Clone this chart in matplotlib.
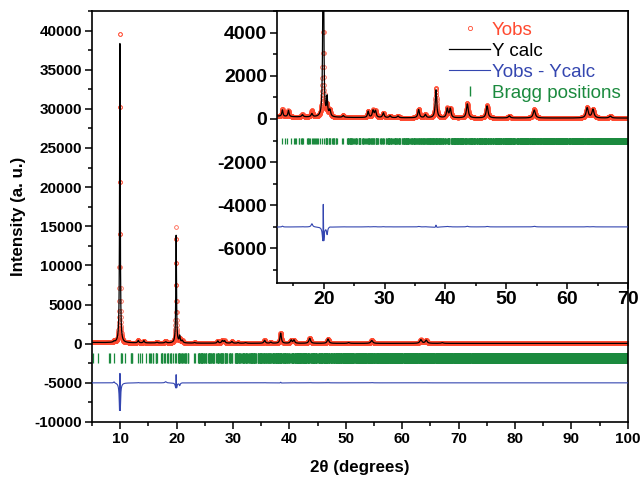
import numpy as np
import matplotlib.pyplot as plt
from matplotlib.ticker import MultipleLocator
from matplotlib.lines import Line2D

plt.rcParams['font.family'] = ['Liberation Sans', 'DejaVu Sans']
plt.rcParams['axes.unicode_minus'] = False

# Scan range and step (degrees 2theta)
scan_start, scan_stop, scan_step = 5.0, 100.0, 0.02

peak_pos = [8.90, 9.95, 13.20, 14.20, 16.50, 18.05, 19.92, 20.55, 21.00, 23.20,
            27.30, 28.10, 28.50, 29.80, 30.90, 32.20, 35.60, 36.70, 38.45, 40.30,
            40.80, 43.60, 46.85, 50.50, 54.60, 63.30, 64.25, 67.10]
calc_height = [120, 39200, 300, 290, 100, 150, 13750, 850, 300, 80,
               290, 320, 300, 220, 90, 80, 380, 150, 1300, 420,
               420, 650, 560, 100, 370, 470, 400, 90]
calc_fwhm = [0.25, 0.125, 0.22, 0.22, 0.30, 0.30, 0.14, 0.20, 0.30, 0.30,
             0.25, 0.30, 0.30, 0.30, 0.30, 0.30, 0.30, 0.30, 0.28, 0.30,
             0.30, 0.35, 0.35, 0.35, 0.40, 0.40, 0.40, 0.40]
obs_height = [300, 41000, 340, 290, 110, 300, 14800, 520, 320, 90,
              300, 330, 310, 230, 95, 85, 400, 160, 1380, 440,
              430, 680, 580, 100, 400, 480, 410, 95]
obs_fwhm = [0.25, 0.10, 0.22, 0.22, 0.30, 0.30, 0.12, 0.20, 0.30, 0.30,
            0.25, 0.30, 0.30, 0.30, 0.30, 0.30, 0.30, 0.30, 0.26, 0.30,
            0.30, 0.35, 0.35, 0.35, 0.40, 0.40, 0.40, 0.40]

# Background: flat level plus a decaying low-angle part
bg_flat, bg_low, bg_decay = 40.0, 120.0, 12.0

# Monoclinic cell used for the reflection tick marks
cell_a, cell_b, cell_c, cell_beta = 17.4, 14.6, 11.0, 98.0
wavelength = 1.5406

diff_offset = -5000


def lorentz(x, pos, height, fwhm):
    return height / (1.0 + (2.0 * (x - pos) / fwhm) ** 2)


two_theta = np.arange(scan_start, scan_stop + scan_step / 2, scan_step)
background = bg_flat + bg_low * np.exp(-(two_theta - scan_start) / bg_decay)

y_calc = background.copy()
y_obs = background.copy()
for p, hc, wc, ho, wo in zip(peak_pos, calc_height, calc_fwhm, obs_height, obs_fwhm):
    y_calc += lorentz(two_theta, p, hc, wc)
    y_obs += lorentz(two_theta, p, ho, wo)
y_diff = y_obs - y_calc + diff_offset

# Bragg positions from the cell
hkl = np.array([(h, k, l) for h in range(-20, 21) for k in range(16) for l in range(13)
                if (k + l > 0) or (h > 0)], dtype=float)
h, k, l = hkl.T
beta = np.radians(cell_beta)
inv_d2 = ((h / cell_a) ** 2 + (k * np.sin(beta) / cell_b) ** 2 + (l / cell_c) ** 2
          - 2 * h * l * np.cos(beta) / (cell_a * cell_c)) / np.sin(beta) ** 2
sin_t = wavelength * np.sqrt(inv_d2) / 2
sin_t = sin_t[sin_t < 1]
bragg = np.unique(np.round(2 * np.degrees(np.arcsin(sin_t)), 3))
bragg = bragg[(bragg >= scan_start) & (bragg <= scan_stop)]

c_obs = '#ff4a30'
c_calc = 'black'
c_diff = '#3446b0'
c_bragg = '#1b8a3e'

fig = plt.figure(figsize=(6.41, 4.82), dpi=100)
ax = fig.add_axes([0.1435, 0.1245, 0.836, 0.8527])


def draw_pattern(a, bragg_lo, bragg_hi):
    a.plot(two_theta, y_obs, 'o', ms=2.7, mfc='none', mec=c_obs, mew=0.6, alpha=0.85, zorder=2)
    a.plot(two_theta, y_calc, '-', color=c_calc, lw=0.9, zorder=3)
    a.plot(two_theta, y_diff, '-', color=c_diff, lw=0.8, zorder=3)
    a.vlines(bragg, bragg_lo, bragg_hi, color=c_bragg, lw=0.9, zorder=2)


def style_axes(a, labelsize):
    for s in a.spines.values():
        s.set_linewidth(1.2)
    a.tick_params(which='both', direction='out', top=False, right=False,
                  width=1.1, labelsize=labelsize, pad=2)
    a.tick_params(which='major', length=5)
    a.tick_params(which='minor', length=3)
    for lbl in a.get_xticklabels() + a.get_yticklabels():
        lbl.set_fontweight('bold')


draw_pattern(ax, -2450, -1250)
ax.set_xlim(5, 100)
ax.set_ylim(-10000, 42500)
ax.xaxis.set_major_locator(MultipleLocator(10))
ax.xaxis.set_minor_locator(MultipleLocator(5))
ax.yaxis.set_major_locator(MultipleLocator(5000))
ax.yaxis.set_minor_locator(MultipleLocator(2500))
style_axes(ax, 11)
ax.set_xlabel('2θ (degrees)', fontsize=12.2, fontweight='bold', labelpad=10)
ax.set_ylabel('Intensity (a. u.)', fontsize=12.2, fontweight='bold', labelpad=6)

# Zoomed view of the middle angular range
ax_in = fig.add_axes([0.432, 0.4128, 0.5476, 0.5644])
draw_pattern(ax_in, -1140, -860)
ax_in.set_xlim(12.3, 70)
ax_in.set_ylim(-7600, 5000)
ax_in.xaxis.set_major_locator(MultipleLocator(10))
ax_in.xaxis.set_minor_locator(MultipleLocator(5))
ax_in.yaxis.set_major_locator(MultipleLocator(2000))
ax_in.yaxis.set_minor_locator(MultipleLocator(1000))
style_axes(ax_in, 14)
ax_in.tick_params(axis='x', which='major', length=4)
ax_in.tick_params(axis='x', which='minor', length=2)

handles = [
    Line2D([], [], ls='none', marker='o', ms=3, mfc='none', mec=c_obs, mew=0.6),
    Line2D([], [], color=c_calc, lw=0.9),
    Line2D([], [], color=c_diff, lw=0.8),
    Line2D([], [], ls='none', marker='|', ms=7, mew=1.0, color=c_bragg),
]
labels = ['Yobs', 'Y calc', 'Yobs - Ycalc', 'Bragg positions']
leg = ax_in.legend(handles, labels, loc='upper left', bbox_to_anchor=(0.49, 0.96),
                   frameon=False, fontsize=13.5, numpoints=1, handlelength=2.2,
                   handletextpad=0.1, labelspacing=0.2, borderpad=0, borderaxespad=0)
for txt, col in zip(leg.get_texts(), [c_obs, c_calc, c_diff, c_bragg]):
    txt.set_color(col)

fig.savefig('out.png', dpi=100)
